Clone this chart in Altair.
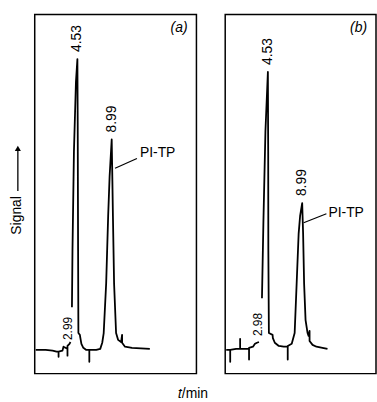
import altair as alt
import pandas as pd

# ---- Chromatogram (a): retention time t (min) vs detector signal (arb. units)
# The trace is drawn in two pieces: it is interrupted where the 2.99 label sits.
t_a1 = [-0.89, 0.40, 1.30, 1.82, 2.08, 2.08, 2.08, 2.59, 2.72, 2.98, 3.24, 3.24, 3.24, 3.50, 3.63]
s_a1 = [6.6, 6.6, 6.4, 6.1, 6.1, 4.7, 6.1, 6.4, 7.5, 7.2, 6.9, 5.0, 7.7, 8.3, 8.8]
t_a2 = [3.82, 3.89, 4.08, 4.34, 4.53, 4.57, 4.62, 4.66, 4.85, 4.92, 5.05, 5.30, 5.69,
        6.08, 6.08, 6.08, 6.98, 7.50, 7.76, 7.95, 8.27, 8.53, 8.72, 8.99, 9.08, 9.15,
        9.30, 9.56, 9.82, 10.21, 10.34, 10.34, 10.72, 11.63, 13.95]
s_a2 = [18.5, 34.3, 61.9, 81.2, 87.6, 70.2, 34.3, 11.3, 10.8, 9.9, 8.3, 7.2, 6.6,
        6.6, 3.3, 6.6, 6.6, 6.9, 8.6, 11.3, 25.1, 43.9, 55.0, 65.2, 53.6, 43.9,
        25.1, 11.3, 9.4, 8.8, 10.8, 8.6, 7.5, 7.2, 6.9]

# ---- Chromatogram (b)
t_b1 = [-0.89, -0.37, -0.37, -0.37, 0.40, 0.92, 0.92, 0.92, 1.82, 2.08, 2.08, 2.08,
        2.59, 2.85, 3.11, 3.37]
s_b1 = [6.6, 6.6, 3.3, 6.6, 6.9, 6.9, 9.7, 6.9, 6.9, 6.9, 3.9, 7.2,
        7.5, 8.3, 8.6, 8.8]
t_b2 = [3.76, 3.95, 4.21, 4.53, 4.57, 4.59, 4.66, 5.14, 5.18, 5.43, 5.95, 6.59, 7.11,
        7.11, 7.11, 7.63, 8.01, 8.27, 8.53, 8.72, 8.99, 9.11, 9.24, 9.43, 9.69, 9.82,
        9.95, 9.95, 10.34, 10.85, 11.63, 12.28]
s_b2 = [21.0, 42.5, 67.4, 84.0, 61.9, 34.3, 11.3, 10.8, 9.9, 8.6, 7.7, 7.5, 7.5,
        3.9, 7.7, 8.3, 11.3, 25.1, 39.0, 43.9, 47.5, 39.0, 25.1, 14.9, 11.3, 10.5,
        11.9, 9.1, 8.0, 7.5, 7.2, 6.9]

# ---- Peak annotations: retention-time labels
peak_a_t = [4.53, 8.99]
peak_a_s = [87.6, 65.2]
peak_b_t = [4.53, 8.99]
peak_b_s = [84.0, 47.5]
small_a = ("2.99", 2.99, 8.8)
small_b = ("2.98", 2.98, 9.9)

# ---- PI-TP callouts: leader start (t, s), leader end (t, s), text anchor (t, s)
pitp_a = [(9.43, 57.2), (12.27, 59.9), (12.66, 61.3)]
pitp_b = [(9.18, 42.0), (12.14, 44.5), (12.40, 44.8)]

FONT = "Liberation Sans"
T_MIN = -1.02
S_DOMAIN = [0, 100]
H = 362


def trace_frame(t1, s1, t2, s2):
    rows = []
    for seg, (ts, ss) in enumerate([(t1, s1), (t2, s2)]):
        for t, s in zip(ts, ss):
            rows.append({"t": t, "s": s, "seg": seg, "i": len(rows)})
    return pd.DataFrame(rows)


def panel(t1, s1, t2, s2, peak_t, peak_s, small, pitp, tag, width, t_max, show_y):
    x_scale = alt.Scale(domain=[T_MIN, t_max], nice=False, zero=False)
    y_scale = alt.Scale(domain=S_DOMAIN, nice=False, zero=False)
    if show_y:
        y_axis = alt.Axis(title="Signal", domain=False, ticks=False,
                          labels=False, grid=False, titleFont=FONT, titleFontSize=14,
                          titleFontWeight="normal", titleColor="black", titlePadding=11,
                          titleY=202, titleAlign="center")
    else:
        y_axis = None
    X = lambda f="t": alt.X(f"{f}:Q", scale=x_scale, axis=None)
    Y = lambda f="s": alt.Y(f"{f}:Q", scale=y_scale, axis=y_axis)

    trace = alt.Chart(trace_frame(t1, s1, t2, s2)).mark_line(
        color="black", strokeWidth=1.8, strokeJoin="round"
    ).encode(x=X(), y=Y(), detail="seg:N", order="i:Q")

    peaks = pd.DataFrame({"t": peak_t, "s": peak_s,
                          "lab": [f"{v:.2f}" for v in peak_t]})
    peak_text = alt.Chart(peaks).mark_text(
        angle=270, align="left", baseline="middle", dx=7, font=FONT,
        fontSize=14, color="black"
    ).encode(x=X(), y=Y(), text="lab:N")

    sm = pd.DataFrame({"t": [small[1]], "s": [small[2]], "lab": [small[0]]})
    small_text = alt.Chart(sm).mark_text(
        angle=270, align="left", baseline="middle", dx=2, dy=2, font=FONT,
        fontSize=12, color="black"
    ).encode(x=X(), y=Y(), text="lab:N")

    lead = pd.DataFrame({"t": [pitp[0][0]], "s": [pitp[0][1]],
                         "t2": [pitp[1][0]], "s2": [pitp[1][1]]})
    leader = alt.Chart(lead).mark_rule(color="black", strokeWidth=1.2).encode(
        x=X(), y=Y(), x2="t2:Q", y2="s2:Q")

    lab = pd.DataFrame({"t": [pitp[2][0]], "s": [pitp[2][1]], "lab": ["PI-TP"]})
    pitp_text = alt.Chart(lab).mark_text(
        align="left", baseline="middle", font=FONT, fontSize=14, color="black"
    ).encode(x=X(), y=Y(), text="lab:N")

    tag_df = pd.DataFrame({"lab": [tag]})
    tag_text = alt.Chart(tag_df).mark_text(
        align="right", baseline="alphabetic", font=FONT, fontSize=14,
        fontStyle="italic", color="black"
    ).encode(x=alt.value(width - 9), y=alt.value(18), text="lab:N")

    layers = [trace, peak_text, small_text, leader, pitp_text, tag_text]

    if show_y:
        # upward arrow beside the "Signal" axis title
        arrow_df = pd.DataFrame({"k": [0]})
        shaft = alt.Chart(arrow_df).mark_rule(color="black", strokeWidth=1.3).encode(
            x=alt.value(-17), y=alt.value(136), y2=alt.value(178))
        head = alt.Chart(arrow_df).mark_point(
            shape="triangle-up", filled=True, color="black", size=38, opacity=1
        ).encode(x=alt.value(-17), y=alt.value(135))
        layers += [shaft, head]

    return alt.layer(*layers).properties(width=width, height=H)


left = panel(t_a1, s_a1, t_a2, s_a2, peak_a_t, peak_a_s, small_a, pitp_a,
             "(a)", 163, 20.01, True)
right = panel(t_b1, s_b1, t_b2, s_b2, peak_b_t, peak_b_s, small_b, pitp_b,
              "(b)", 152, 18.59, False)

chart = alt.hconcat(left, right, spacing=27).properties(
    title=alt.TitleParams("\U0001D461/min", orient="bottom", anchor="middle",
                          font=FONT, fontSize=14, fontWeight="normal",
                          color="black", offset=13),
    padding={"left": 9, "top": 12, "right": 0, "bottom": 0},
    background="white",
).configure_view(stroke="black", strokeWidth=1.5)

chart.save("out.html", embed_options={"renderer": "svg", "actions": False})
